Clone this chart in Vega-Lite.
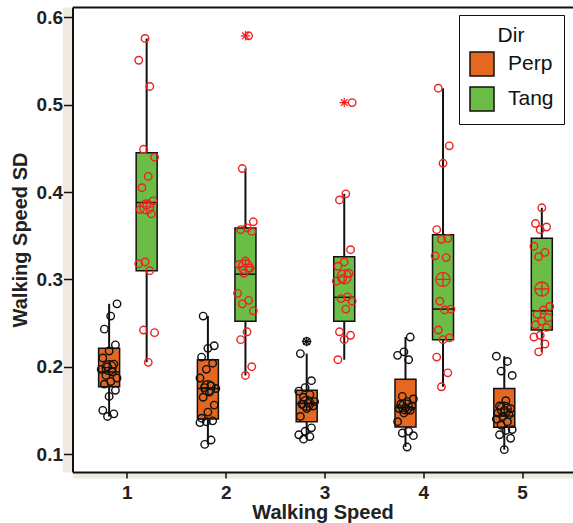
{
  "$schema": "https://vega.github.io/schema/vega-lite/v6.json",
  "width": 500,
  "height": 465,
  "autosize": {"type": "none"},
  "padding": {"left": 72.5, "top": 7, "right": 0.5, "bottom": 51},
  "background": "white",
  "config": {"view": {"stroke": null}, "font": "Liberation Sans"},
  "datasets": {
    "pts": [
      {"Speed":1,"Dir":"Perp","SD":0.272},{"Speed":1,"Dir":"Perp","SD":0.258},{"Speed":1,"Dir":"Perp","SD":0.243},{"Speed":1,"Dir":"Perp","SD":0.225},{"Speed":1,"Dir":"Perp","SD":0.218},{"Speed":1,"Dir":"Perp","SD":0.210},{"Speed":1,"Dir":"Perp","SD":0.203},{"Speed":1,"Dir":"Perp","SD":0.200},{"Speed":1,"Dir":"Perp","SD":0.197},{"Speed":1,"Dir":"Perp","SD":0.194},{"Speed":1,"Dir":"Perp","SD":0.190},{"Speed":1,"Dir":"Perp","SD":0.187},{"Speed":1,"Dir":"Perp","SD":0.183},{"Speed":1,"Dir":"Perp","SD":0.180},{"Speed":1,"Dir":"Perp","SD":0.173},{"Speed":1,"Dir":"Perp","SD":0.166},{"Speed":1,"Dir":"Perp","SD":0.150},{"Speed":1,"Dir":"Perp","SD":0.146},{"Speed":1,"Dir":"Perp","SD":0.143},
      {"Speed":2,"Dir":"Perp","SD":0.258},{"Speed":2,"Dir":"Perp","SD":0.224},{"Speed":2,"Dir":"Perp","SD":0.221},{"Speed":2,"Dir":"Perp","SD":0.211},{"Speed":2,"Dir":"Perp","SD":0.204},{"Speed":2,"Dir":"Perp","SD":0.197},{"Speed":2,"Dir":"Perp","SD":0.187},{"Speed":2,"Dir":"Perp","SD":0.178},{"Speed":2,"Dir":"Perp","SD":0.176},{"Speed":2,"Dir":"Perp","SD":0.175},{"Speed":2,"Dir":"Perp","SD":0.171},{"Speed":2,"Dir":"Perp","SD":0.165},{"Speed":2,"Dir":"Perp","SD":0.156},{"Speed":2,"Dir":"Perp","SD":0.148},{"Speed":2,"Dir":"Perp","SD":0.141},{"Speed":2,"Dir":"Perp","SD":0.138},{"Speed":2,"Dir":"Perp","SD":0.137},{"Speed":2,"Dir":"Perp","SD":0.136},{"Speed":2,"Dir":"Perp","SD":0.116},{"Speed":2,"Dir":"Perp","SD":0.111},
      {"Speed":3,"Dir":"Perp","SD":0.229},{"Speed":3,"Dir":"Perp","SD":0.215},{"Speed":3,"Dir":"Perp","SD":0.184},{"Speed":3,"Dir":"Perp","SD":0.176},{"Speed":3,"Dir":"Perp","SD":0.172},{"Speed":3,"Dir":"Perp","SD":0.168},{"Speed":3,"Dir":"Perp","SD":0.165},{"Speed":3,"Dir":"Perp","SD":0.160},{"Speed":3,"Dir":"Perp","SD":0.158},{"Speed":3,"Dir":"Perp","SD":0.157},{"Speed":3,"Dir":"Perp","SD":0.155},{"Speed":3,"Dir":"Perp","SD":0.152},{"Speed":3,"Dir":"Perp","SD":0.143},{"Speed":3,"Dir":"Perp","SD":0.130},{"Speed":3,"Dir":"Perp","SD":0.126},{"Speed":3,"Dir":"Perp","SD":0.122},{"Speed":3,"Dir":"Perp","SD":0.120},{"Speed":3,"Dir":"Perp","SD":0.117},
      {"Speed":4,"Dir":"Perp","SD":0.234},{"Speed":4,"Dir":"Perp","SD":0.217},{"Speed":4,"Dir":"Perp","SD":0.213},{"Speed":4,"Dir":"Perp","SD":0.208},{"Speed":4,"Dir":"Perp","SD":0.166},{"Speed":4,"Dir":"Perp","SD":0.163},{"Speed":4,"Dir":"Perp","SD":0.160},{"Speed":4,"Dir":"Perp","SD":0.157},{"Speed":4,"Dir":"Perp","SD":0.155},{"Speed":4,"Dir":"Perp","SD":0.153},{"Speed":4,"Dir":"Perp","SD":0.152},{"Speed":4,"Dir":"Perp","SD":0.150},{"Speed":4,"Dir":"Perp","SD":0.147},{"Speed":4,"Dir":"Perp","SD":0.137},{"Speed":4,"Dir":"Perp","SD":0.126},{"Speed":4,"Dir":"Perp","SD":0.124},{"Speed":4,"Dir":"Perp","SD":0.121},{"Speed":4,"Dir":"Perp","SD":0.108},
      {"Speed":5,"Dir":"Perp","SD":0.212},{"Speed":5,"Dir":"Perp","SD":0.206},{"Speed":5,"Dir":"Perp","SD":0.195},{"Speed":5,"Dir":"Perp","SD":0.190},{"Speed":5,"Dir":"Perp","SD":0.161},{"Speed":5,"Dir":"Perp","SD":0.155},{"Speed":5,"Dir":"Perp","SD":0.152},{"Speed":5,"Dir":"Perp","SD":0.150},{"Speed":5,"Dir":"Perp","SD":0.147},{"Speed":5,"Dir":"Perp","SD":0.145},{"Speed":5,"Dir":"Perp","SD":0.143},{"Speed":5,"Dir":"Perp","SD":0.140},{"Speed":5,"Dir":"Perp","SD":0.137},{"Speed":5,"Dir":"Perp","SD":0.133},{"Speed":5,"Dir":"Perp","SD":0.128},{"Speed":5,"Dir":"Perp","SD":0.127},{"Speed":5,"Dir":"Perp","SD":0.122},{"Speed":5,"Dir":"Perp","SD":0.118},{"Speed":5,"Dir":"Perp","SD":0.105},
      {"Speed":1,"Dir":"Tang","SD":0.576},{"Speed":1,"Dir":"Tang","SD":0.551},{"Speed":1,"Dir":"Tang","SD":0.521},{"Speed":1,"Dir":"Tang","SD":0.449},{"Speed":1,"Dir":"Tang","SD":0.440},{"Speed":1,"Dir":"Tang","SD":0.418},{"Speed":1,"Dir":"Tang","SD":0.405},{"Speed":1,"Dir":"Tang","SD":0.390},{"Speed":1,"Dir":"Tang","SD":0.385},{"Speed":1,"Dir":"Tang","SD":0.380},{"Speed":1,"Dir":"Tang","SD":0.375},{"Speed":1,"Dir":"Tang","SD":0.320},{"Speed":1,"Dir":"Tang","SD":0.318},{"Speed":1,"Dir":"Tang","SD":0.310},{"Speed":1,"Dir":"Tang","SD":0.242},{"Speed":1,"Dir":"Tang","SD":0.239},{"Speed":1,"Dir":"Tang","SD":0.205},
      {"Speed":2,"Dir":"Tang","SD":0.579},{"Speed":2,"Dir":"Tang","SD":0.427},{"Speed":2,"Dir":"Tang","SD":0.366},{"Speed":2,"Dir":"Tang","SD":0.359},{"Speed":2,"Dir":"Tang","SD":0.357},{"Speed":2,"Dir":"Tang","SD":0.355},{"Speed":2,"Dir":"Tang","SD":0.321},{"Speed":2,"Dir":"Tang","SD":0.317},{"Speed":2,"Dir":"Tang","SD":0.313},{"Speed":2,"Dir":"Tang","SD":0.307},{"Speed":2,"Dir":"Tang","SD":0.284},{"Speed":2,"Dir":"Tang","SD":0.276},{"Speed":2,"Dir":"Tang","SD":0.272},{"Speed":2,"Dir":"Tang","SD":0.264},{"Speed":2,"Dir":"Tang","SD":0.240},{"Speed":2,"Dir":"Tang","SD":0.231},{"Speed":2,"Dir":"Tang","SD":0.200},{"Speed":2,"Dir":"Tang","SD":0.190},
      {"Speed":3,"Dir":"Tang","SD":0.5025},{"Speed":3,"Dir":"Tang","SD":0.398},{"Speed":3,"Dir":"Tang","SD":0.391},{"Speed":3,"Dir":"Tang","SD":0.334},{"Speed":3,"Dir":"Tang","SD":0.320},{"Speed":3,"Dir":"Tang","SD":0.315},{"Speed":3,"Dir":"Tang","SD":0.307},{"Speed":3,"Dir":"Tang","SD":0.301},{"Speed":3,"Dir":"Tang","SD":0.298},{"Speed":3,"Dir":"Tang","SD":0.280},{"Speed":3,"Dir":"Tang","SD":0.278},{"Speed":3,"Dir":"Tang","SD":0.275},{"Speed":3,"Dir":"Tang","SD":0.266},{"Speed":3,"Dir":"Tang","SD":0.240},{"Speed":3,"Dir":"Tang","SD":0.236},{"Speed":3,"Dir":"Tang","SD":0.231},{"Speed":3,"Dir":"Tang","SD":0.208},
      {"Speed":4,"Dir":"Tang","SD":0.519},{"Speed":4,"Dir":"Tang","SD":0.453},{"Speed":4,"Dir":"Tang","SD":0.433},{"Speed":4,"Dir":"Tang","SD":0.357},{"Speed":4,"Dir":"Tang","SD":0.347},{"Speed":4,"Dir":"Tang","SD":0.346},{"Speed":4,"Dir":"Tang","SD":0.327},{"Speed":4,"Dir":"Tang","SD":0.325},{"Speed":4,"Dir":"Tang","SD":0.275},{"Speed":4,"Dir":"Tang","SD":0.266},{"Speed":4,"Dir":"Tang","SD":0.265},{"Speed":4,"Dir":"Tang","SD":0.242},{"Speed":4,"Dir":"Tang","SD":0.233},{"Speed":4,"Dir":"Tang","SD":0.231},{"Speed":4,"Dir":"Tang","SD":0.211},{"Speed":4,"Dir":"Tang","SD":0.193},{"Speed":4,"Dir":"Tang","SD":0.177},
      {"Speed":5,"Dir":"Tang","SD":0.382},{"Speed":5,"Dir":"Tang","SD":0.364},{"Speed":5,"Dir":"Tang","SD":0.360},{"Speed":5,"Dir":"Tang","SD":0.357},{"Speed":5,"Dir":"Tang","SD":0.338},{"Speed":5,"Dir":"Tang","SD":0.331},{"Speed":5,"Dir":"Tang","SD":0.326},{"Speed":5,"Dir":"Tang","SD":0.269},{"Speed":5,"Dir":"Tang","SD":0.265},{"Speed":5,"Dir":"Tang","SD":0.260},{"Speed":5,"Dir":"Tang","SD":0.256},{"Speed":5,"Dir":"Tang","SD":0.252},{"Speed":5,"Dir":"Tang","SD":0.248},{"Speed":5,"Dir":"Tang","SD":0.245},{"Speed":5,"Dir":"Tang","SD":0.236},{"Speed":5,"Dir":"Tang","SD":0.234},{"Speed":5,"Dir":"Tang","SD":0.226},{"Speed":5,"Dir":"Tang","SD":0.217}
    ],
    "boxes": [
      {"Speed":1,"Dir":"Perp","q1":0.177,"med":0.194,"q3":0.221,"lo":0.143,"hi":0.272,"mean":0.199},
      {"Speed":2,"Dir":"Perp","q1":0.140,"med":0.175,"q3":0.208,"lo":0.111,"hi":0.258,"mean":0.176},
      {"Speed":3,"Dir":"Perp","q1":0.137,"med":0.158,"q3":0.173,"lo":0.117,"hi":0.215,"mean":0.158},
      {"Speed":4,"Dir":"Perp","q1":0.131,"med":0.153,"q3":0.1855,"lo":0.108,"hi":0.234,"mean":0.154},
      {"Speed":5,"Dir":"Perp","q1":0.1306,"med":0.1435,"q3":0.175,"lo":0.105,"hi":0.212,"mean":0.1515},
      {"Speed":1,"Dir":"Tang","q1":0.310,"med":0.388,"q3":0.445,"lo":0.205,"hi":0.576,"mean":0.383},
      {"Speed":2,"Dir":"Tang","q1":0.252,"med":0.306,"q3":0.359,"lo":0.190,"hi":0.427,"mean":0.3145},
      {"Speed":3,"Dir":"Tang","q1":0.252,"med":0.2795,"q3":0.326,"lo":0.208,"hi":0.398,"mean":0.303},
      {"Speed":4,"Dir":"Tang","q1":0.231,"med":0.266,"q3":0.351,"lo":0.177,"hi":0.519,"mean":0.300},
      {"Speed":5,"Dir":"Tang","q1":0.242,"med":0.264,"q3":0.347,"lo":0.217,"hi":0.382,"mean":0.289}
    ],
    "outliers": [
      {"Speed":3,"Dir":"Perp","SD":0.229},
      {"Speed":2,"Dir":"Tang","SD":0.579},
      {"Speed":3,"Dir":"Tang","SD":0.5025}
    ]
  },
  "resolve": {"axis": {"x": "independent", "y": "independent"}},
  "layer": [
    {
      "data": {"name": "boxes"},
      "transform": [{"calculate": "datum.Speed + (datum.Dir == 'Perp' ? -0.18 : 0.2)", "as": "xb"}],
      "mark": {"type": "rule", "color": "#111", "strokeWidth": 2},
      "encoding": {
        "x": {"field": "xb", "type": "quantitative", "scale": {"domain": [0.5, 5.46], "nice": false, "zero": false},
          "axis": {"orient": "bottom", "values": [1,2,3,4,5], "format": "d", "grid": false, "domainColor": "#111", "domainWidth": 2, "tickColor": "#111", "tickWidth": 1.5, "tickSize": 6, "labelFontSize": 19, "labelFontWeight": "bold", "labelColor": "#222", "labelPadding": 5, "title": "Walking Speed", "titleFontSize": 20, "titleFontWeight": "bold", "titleColor": "#222", "titlePadding": 0, "zindex": 2}},
        "y": {"field": "lo", "type": "quantitative", "scale": {"domain": [0.0794, 0.612], "nice": false, "zero": false},
          "axis": {"orient": "left", "values": [0.1,0.2,0.3,0.4,0.5,0.6], "format": ".1f", "grid": false, "domainColor": "#111", "domainWidth": 2, "tickColor": "#111", "tickWidth": 1.5, "tickSize": 9, "labelFontSize": 19, "labelFontWeight": "bold", "labelColor": "#222", "labelPadding": 1, "title": "Walking Speed SD", "titleFontSize": 20, "titleFontWeight": "bold", "titleColor": "#222", "titlePadding": 6, "zindex": 2}},
        "y2": {"field": "hi"}
      }
    },
    {
      "data": {"name": "boxes"},
      "transform": [{"calculate": "datum.Speed + (datum.Dir == 'Perp' ? -0.18 : 0.2)", "as": "xb"}],
      "mark": {"type": "bar", "size": 21, "stroke": "#111", "strokeWidth": 1.5},
      "encoding": {
        "x": {"field": "xb", "type": "quantitative", "scale": {"domain": [0.5, 5.46], "nice": false, "zero": false},
          "axis": {"orient": "top", "grid": false, "ticks": false, "labels": false, "title": null, "domainColor": "#111", "domainWidth": 2}},
        "y": {"field": "q1", "type": "quantitative", "scale": {"domain": [0.0794, 0.612], "nice": false, "zero": false},
          "axis": {"orient": "left", "offset": 5, "grid": false, "ticks": false, "labels": false, "title": null, "domainColor": "#efebe0", "domainWidth": 10, "zindex": 0}},
        "y2": {"field": "q3"},
        "fill": {"field": "Dir", "type": "nominal", "scale": {"domain": ["Perp", "Tang"], "range": ["#e56820", "#6cbd45"]},
          "legend": {"orient": "none", "legendX": 386.5, "legendY": 8, "title": "Dir", "titleFontSize": 21, "titleFontWeight": "normal", "titleColor": "#111", "titleAnchor": "middle", "titlePadding": 5, "labelFontSize": 21, "labelColor": "#111", "labelOffset": 13, "rowPadding": 5, "padding": 10, "strokeColor": "#111", "fillColor": "white", "symbolType": "square", "symbolSize": 576, "symbolStrokeColor": "#111", "symbolStrokeWidth": 1.5, "symbolOpacity": 1}}
      }
    },
    {
      "data": {"name": "boxes"},
      "transform": [{"calculate": "datum.Speed + (datum.Dir == 'Perp' ? -0.18 : 0.2)", "as": "xb"}],
      "mark": {"type": "tick", "orient": "horizontal", "size": 21, "thickness": 1.5, "color": "#111", "opacity": 1},
      "encoding": {
        "x": {"field": "xb", "type": "quantitative", "scale": {"domain": [0.5, 5.46], "nice": false, "zero": false},
          "axis": {"orient": "bottom", "offset": 3, "grid": false, "ticks": false, "labels": false, "title": null, "domainColor": "#efebe0", "domainWidth": 6, "zindex": 0}},
        "y": {"field": "med", "type": "quantitative", "scale": {"domain": [0.0794, 0.612], "nice": false, "zero": false}, "axis": null}
      }
    },
    {
      "data": {"name": "pts"},
      "transform": [
        {"window": [{"op": "row_number", "as": "i"}], "groupby": ["Speed", "Dir"]},
        {"calculate": "datum.Speed + (datum.Dir == 'Perp' ? -0.18 : 0.2) + (((datum.i * 7 + datum.Speed * 3 + (datum.Dir == 'Tang' ? 5 : 0)) % 11) - 5) * 0.016", "as": "xp"}
      ],
      "mark": {"type": "point", "shape": "circle", "filled": false, "size": 56, "strokeWidth": 1.4, "opacity": 1},
      "encoding": {
        "x": {"field": "xp", "type": "quantitative", "scale": {"domain": [0.5, 5.46], "nice": false, "zero": false}, "axis": null},
        "y": {"field": "SD", "type": "quantitative", "scale": {"domain": [0.0794, 0.612], "nice": false, "zero": false}, "axis": null},
        "stroke": {"condition": {"test": "datum.Dir == 'Perp'", "value": "#111111"}, "value": "#ee2222"}
      }
    },
    {
      "data": {"name": "boxes"},
      "transform": [{"calculate": "datum.Speed + (datum.Dir == 'Perp' ? -0.18 : 0.2)", "as": "xb"}],
      "mark": {"type": "point", "shape": "M-1,0A1,1,0,1,1,1,0A1,1,0,1,1,-1,0ZM-1,0L1,0M0,-1L0,1", "filled": false, "size": 196, "strokeWidth": 1.3, "opacity": 1},
      "encoding": {
        "x": {"field": "xb", "type": "quantitative", "scale": {"domain": [0.5, 5.46], "nice": false, "zero": false}, "axis": null},
        "y": {"field": "mean", "type": "quantitative", "scale": {"domain": [0.0794, 0.612], "nice": false, "zero": false}, "axis": null},
        "stroke": {"condition": {"test": "datum.Dir == 'Perp'", "value": "#111111"}, "value": "#ee2222"}
      }
    },
    {
      "data": {"name": "outliers"},
      "transform": [{"calculate": "datum.Speed + (datum.Dir == 'Perp' ? -0.18 : 0.2)", "as": "xb"}],
      "mark": {"type": "point", "shape": "M-1,0L1,0M0,-1L0,1M-0.7,-0.7L0.7,0.7M-0.7,0.7L0.7,-0.7", "filled": false, "size": 90, "strokeWidth": 1.2, "opacity": 1},
      "encoding": {
        "x": {"field": "xb", "type": "quantitative", "scale": {"domain": [0.5, 5.46], "nice": false, "zero": false}, "axis": null},
        "y": {"field": "SD", "type": "quantitative", "scale": {"domain": [0.0794, 0.612], "nice": false, "zero": false}, "axis": null},
        "stroke": {"condition": {"test": "datum.Dir == 'Perp'", "value": "#111111"}, "value": "#ee2222"}
      }
    }
  ]
}
